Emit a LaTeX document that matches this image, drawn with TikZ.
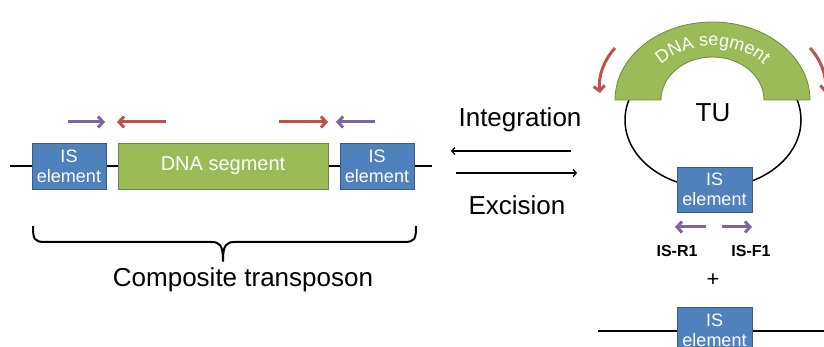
\documentclass[tikz,border=0pt]{standalone}
\usepackage{fontspec}
\setmainfont{Liberation Sans}
\usetikzlibrary{arrows.meta,decorations.text}
\definecolor{isblue}{HTML}{4F81BD}
\definecolor{isedge}{HTML}{385D8A}
\definecolor{dnagreen}{HTML}{9BBB59}
\definecolor{dnaedge}{HTML}{71893F}
\definecolor{arrred}{HTML}{C0504D}
\definecolor{arrpurple}{HTML}{8064A2}
\begin{document}
\begin{tikzpicture}[x=1pt,y=-1pt,
  dnaline/.style={line width=2.5pt,black},
  isbox/.style={fill=isblue,draw=isedge,line width=0.8pt,text=white,align=center,
    font=\fontsize{18}{20}\selectfont,minimum width=74pt,minimum height=46pt,inner sep=0pt},
  dnabox/.style={fill=dnagreen,draw=dnaedge,line width=0.8pt,text=white,
    font=\fontsize{20}{22}\selectfont,minimum width=210pt,minimum height=46pt,inner sep=0pt},
  bigtext/.style={font=\fontsize{26}{28}\selectfont,anchor=base,inner sep=0pt},
  primer/.style={font=\bfseries\fontsize{16}{18}\selectfont,anchor=base,inner sep=0pt},
  redarr/.style={arrred,line width=3pt,-{Straight Barb[length=5pt,width=11pt]}},
  purarr/.style={arrpurple,line width=3pt,-{Straight Barb[length=5pt,width=11pt]}},
  blkarr/.style={black,line width=1.3pt,-{Straight Barb[length=3pt,width=7pt]}},
  bracestyle/.style={black,line width=2pt,line join=round}
]
\useasboundingbox (0,0) rectangle (824,347);

% ---------- left: composite transposon ----------
\coordinate (LA) at (10,166);
\coordinate (LB) at (432,166);
\draw[dnaline] (LA) -- (LB);
\node[isbox] (is1) at (69,166) {IS\\element};
\node[dnabox] (seg) at (223,166) {DNA segment};
\node[isbox] (is2) at (377,166) {IS\\element};

\coordinate (p1a) at (68,122);  \coordinate (p1b) at (105,122);
\coordinate (r1a) at (166,122); \coordinate (r1b) at (117,122);
\coordinate (r2a) at (279,122); \coordinate (r2b) at (328,122);
\coordinate (p2a) at (375,122); \coordinate (p2b) at (336,122);
\draw[purarr] (p1a) -- (p1b);
\draw[redarr] (r1a) -- (r1b);
\draw[redarr] (r2a) -- (r2b);
\draw[purarr] (p2a) -- (p2b);

% brace
\draw[bracestyle] (33,226) .. controls (33,239) and (34,242) .. (45,242) -- (211,242)
  .. controls (220,242) and (223,245) .. (223,261)
  .. controls (223,245) and (226,242) .. (235,242) -- (404,242)
  .. controls (415,242) and (416,239) .. (416,226);
\node[bigtext] (comp) at (243,286) {Composite transposon};

% ---------- middle: integration / excision ----------
\node[bigtext] (integ) at (520,127) {Integration};
\node[bigtext] (excis) at (517,215) {Excision};
\coordinate (ia) at (571,151); \coordinate (ib) at (451,151);
\coordinate (ea) at (456,173); \coordinate (eb) at (577,173);
\draw[blkarr] (ia) -- (ib);
\draw[blkarr] (ea) -- (eb);

% ---------- right: circular TU ----------
\draw[black,line width=1.5pt] (713,120) ellipse [x radius=88, y radius=68];
\fill[dnagreen,draw=dnaedge,line width=0.8pt]
  (615,100) arc[start angle=180,end angle=360,x radius=97.5,y radius=78]
  -- (764,100) arc[start angle=0,end angle=-180,x radius=51.5,y radius=43] -- cycle;
\path[decorate,decoration={text along path,text align=center,text color=white,
  text={|\fontsize{18}{18}\selectfont|DNA segment}}]
  (646.8,86) arc[start angle=195,end angle=345,x radius=68,y radius=54];
\node[bigtext] (tu) at (713,122) {TU};

\coordinate (cl1) at (615,48); \coordinate (cl2) at (600,93);
\coordinate (cr1) at (810,48); \coordinate (cr2) at (825,93);
\draw[redarr] (cl1) .. controls (604,60) and (598,76) .. (cl2);
\draw[redarr] (cr1) .. controls (821,60) and (827,76) .. (cr2);

\node[isbox,minimum width=75pt,minimum height=45pt] (is3) at (714.5,189.5) {IS\\element};

\coordinate (q1a) at (706,227); \coordinate (q1b) at (675,227);
\coordinate (q2a) at (722,227); \coordinate (q2b) at (752,227);
\draw[purarr] (q1a) -- (q1b);
\draw[purarr] (q2a) -- (q2b);
\node[primer] (isr) at (677,257) {IS-R1};
\node[primer] (isf) at (751,257) {IS-F1};
\node[font=\fontsize{22}{22}\selectfont,inner sep=0pt] (plus) at (713,280) {+};

% bottom chromosome
\coordinate (BA) at (598,331);
\coordinate (BB) at (828,331);
\draw[dnaline] (BA) -- (BB);
\node[isbox,minimum width=75pt,minimum height=46pt] (is4) at (714.5,330) {IS\\element};
\end{tikzpicture}
\end{document}
